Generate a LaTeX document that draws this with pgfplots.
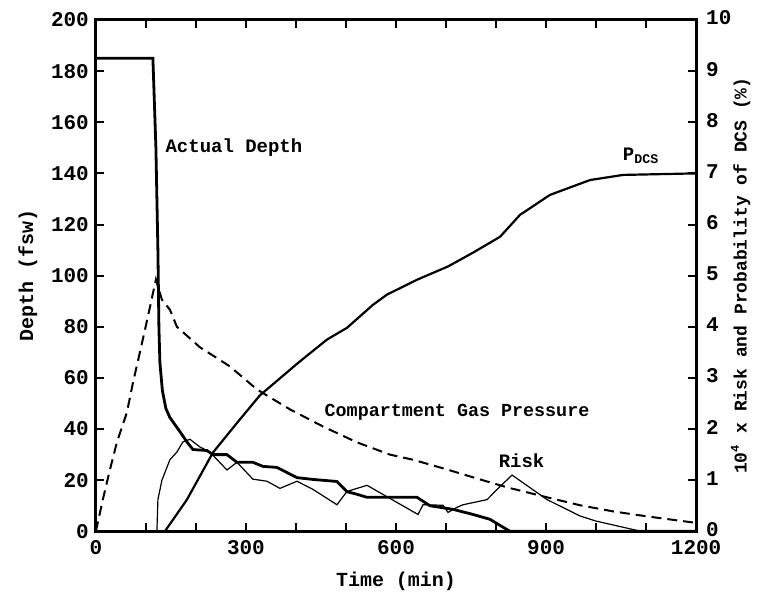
\documentclass[border=0pt]{standalone}
\usepackage{pgfplots}
\pgfplotsset{compat=1.18}
\usepackage{fontspec}
\setmainfont{Liberation Mono}
\begin{document}
\begin{tikzpicture}
\pgfplotsset{
  common/.style={
    width=300.5pt, height=256pt, scale only axis,
    xmin=0, xmax=1200,
    /pgf/number format/assume math mode=true,
    ticklabel style={font=\bfseries\fontsize{10.5}{12}\selectfont},
    label style={font=\bfseries\fontsize{10}{12}\selectfont},
    major tick length=4pt,
    tick style={line width=1pt, black},
    axis line style={line width=1.5pt},
  }
}
\begin{axis}[common,
  ymin=0, ymax=200,
  xtick={0,100,...,1200},
  xticklabels={0,,,300,,,600,,,900,,,1200},
  xticklabel style={yshift=-1pt},
  xtick pos=both,
  ytick={0,20,...,200},
  ytick pos=left,
  xlabel={Time (min)},
  ylabel={Depth (fsw)},
  xlabel shift=2pt,
  clip=false,
]
% Actual depth
\addplot[black, line width=1.4pt] coordinates {
(0,185) (114,185) (120,150) (124,110) (126,80) (128,66) (133,55) (140,48) (148,44.5)
(168,39) (182,35) (194,32) (222,31.6) (234,30) (262,30) (282,27) (314,27) (334,25.4)
(362,25) (402,21) (434,20.3) (482,19.5) (502,15.5) (522,14.5) (542,13.3) (642,13.3)
(668,10) (714,8.6) (754,6.6) (788,4.7) (814,1.6) (828,0) (1200,0)
};
% Compartment gas pressure
\addplot[black, line width=1pt, dash pattern=on 5pt off 3pt] coordinates {
(0,0) (14,12.5) (28,24) (42,34.8) (62,46.5) (74,58) (88,70) (104,84) (120,98.5)
(132,90.6) (148,86.7) (162,80) (208,72) (268,64.5) (322,55.5) (388,47.7) (454,41)
(522,34.8) (588,30) (634,28) (702,24.2) (768,20.3) (822,17.2) (902,13.3) (968,10.2)
(1034,7.8) (1100,5.9) (1200,3.3)
};
\node[font=\bfseries\fontsize{9.5}{11}\selectfont] at (axis cs:276,150) {Actual Depth};
\node[font=\bfseries\fontsize{9.2}{11}\selectfont] at (axis cs:722,46.5) {Compartment Gas Pressure};
\node[font=\bfseries\fontsize{9.5}{11}\selectfont] at (axis cs:851,27.5) {Risk};
\node[font=\bfseries\fontsize{9.5}{11}\selectfont] at (axis cs:1090,147) {P\textsubscript{DCS}};
\end{axis}
\begin{axis}[common,
  ymin=0, ymax=10,
  axis x line=none,
  axis y line*=right,
  ytick={0,1,...,10},
  ytick align=inside,
  yticklabel style={xshift=1.5pt, yshift=1pt},
  ylabel={10\textsuperscript{4} x Risk and Probability of DCS (\%)},
  ylabel style={font=\bfseries\fontsize{9}{11}\selectfont},
  ylabel shift=-7pt,
]
% Risk
\addplot[black, line width=0.6pt] coordinates {
(122,0) (124,0.62) (132,1.0) (148,1.4) (162,1.55) (174,1.75) (188,1.8) (208,1.65)
(228,1.55) (262,1.2) (282,1.35) (314,1.02) (342,0.98) (368,0.84) (402,0.98) (434,0.82)
(482,0.52) (502,0.78) (542,0.9) (644,0.33) (654,0.52) (694,0.51) (704,0.37) (722,0.47)
(734,0.52) (782,0.62) (802,0.82) (832,1.1) (902,0.62) (968,0.3) (1000,0.2) (1054,0.08)
(1090,0) (1200,0)
};
% P_DCS
\addplot[black, line width=1.1pt] coordinates {
(138,0) (182,0.62) (234,1.54) (288,2.19) (328,2.66) (405,3.3) (462,3.75) (502,3.98)
(554,4.43) (582,4.63) (642,4.92) (704,5.18) (754,5.45) (808,5.76) (848,6.19) (908,6.58)
(988,6.87) (1054,6.97) (1200,7.0)
};
\end{axis}
\path (-48pt,-32pt) rectangle (330.5pt,266pt);
\end{tikzpicture}
\end{document}
